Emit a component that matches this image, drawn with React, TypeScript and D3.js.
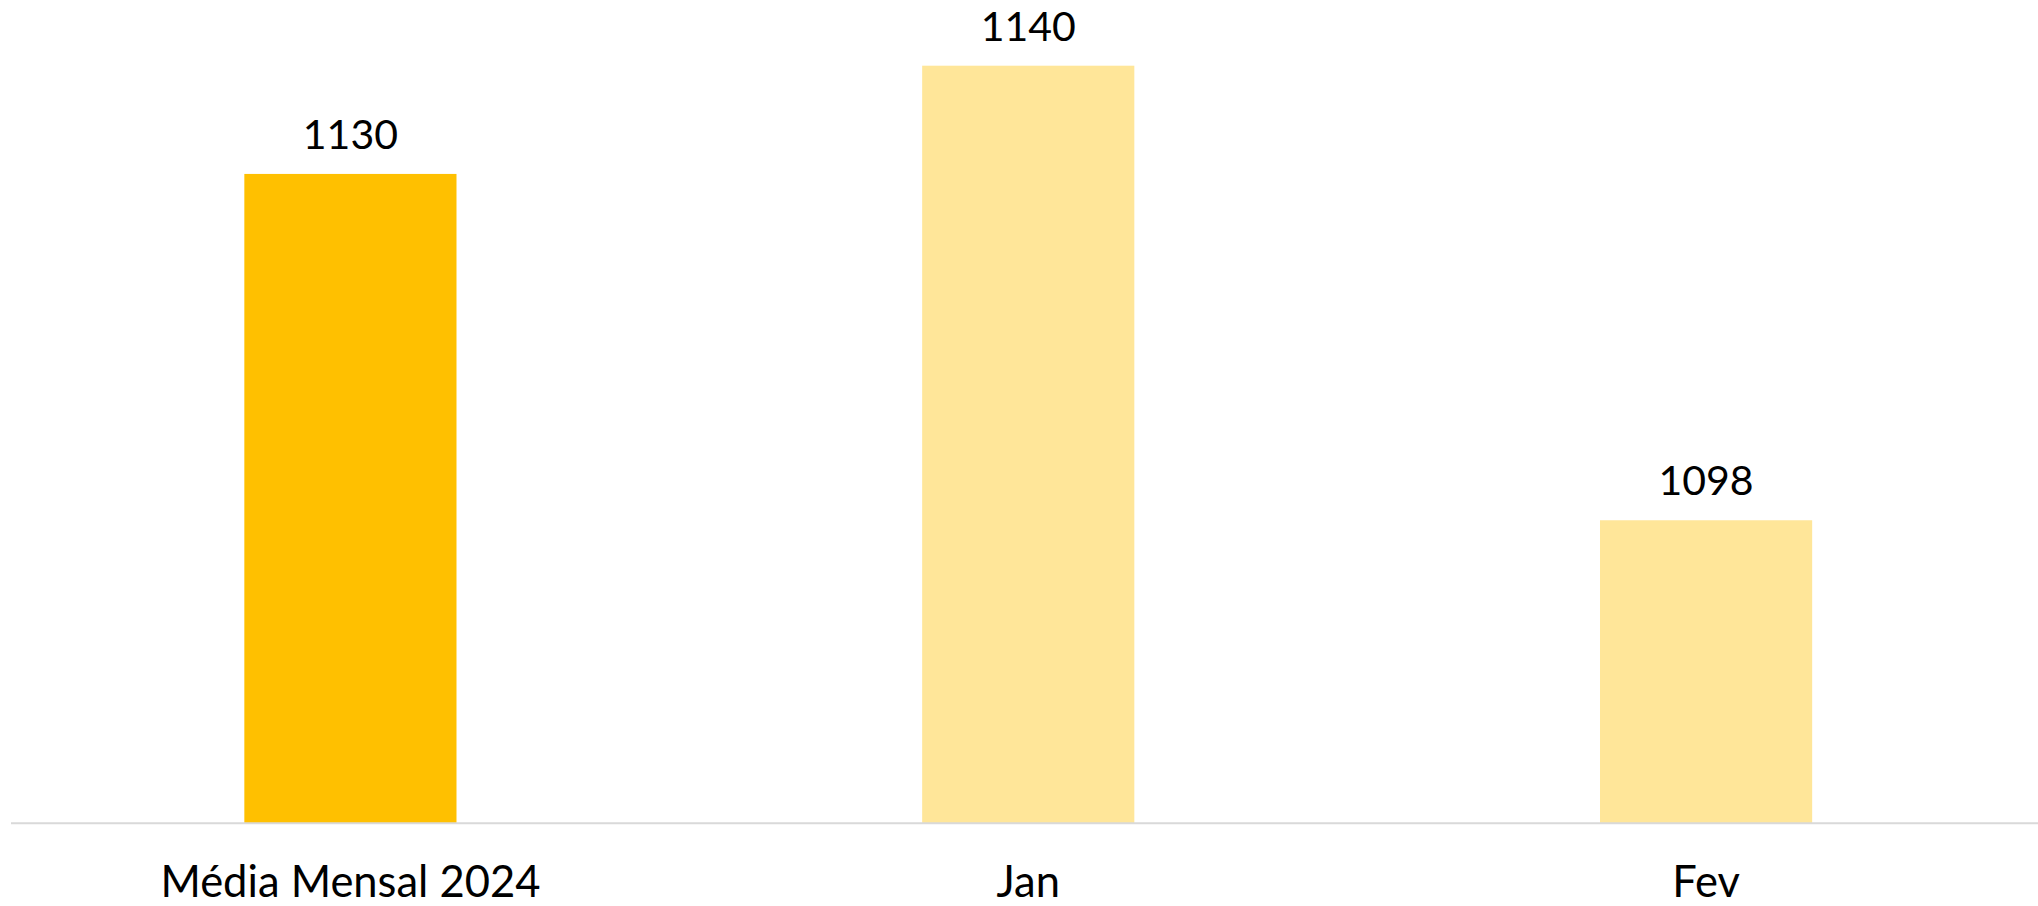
import React from "react";
import * as d3 from "d3";

const categories: string[] = ["Média Mensal 2024", "Jan", "Fev"];
const values: number[] = [1130, 1140, 1098];
const barColors: string[] = ["#FFC000", "#FFE699", "#FFE699"];

const W = 2038;
const H = 906;
const baseY = 823.3;

export default function App() {
  const x = d3
    .scaleBand<string>()
    .domain(categories)
    .range([11.5, 2045])
    .paddingInner(0.687)
    .paddingOuter(0.3435);
  const y = d3.scaleLinear().domain([1070, 1140]).range([baseY, 65.7]);
  const font = "Lato, 'Open Sans', sans-serif";

  return (
    <svg
      width={W}
      height={H}
      style={{ position: "absolute", left: 0, top: 0, background: "#fff" }}
    >
      {categories.map((c, i) => {
        const bx = x(c) as number;
        const by = y(values[i]);
        return (
          <g key={c}>
            <rect
              x={bx}
              y={by}
              width={x.bandwidth()}
              height={baseY - by}
              fill={barColors[i]}
            />
            <text
              x={bx + x.bandwidth() / 2}
              y={by - 25}
              textAnchor="middle"
              fontFamily={font}
              fontSize={41}
              fill="#000"
            >
              {values[i]}
            </text>
            <text
              x={bx + x.bandwidth() / 2}
              y={897}
              textAnchor="middle"
              fontFamily={font}
              fontSize={43.5}
              fill="#000"
            >
              {c}
            </text>
          </g>
        );
      })}
      <line x1={11} x2={W} y1={baseY} y2={baseY} stroke="#D9D9D9" strokeWidth={2} />
    </svg>
  );
}
